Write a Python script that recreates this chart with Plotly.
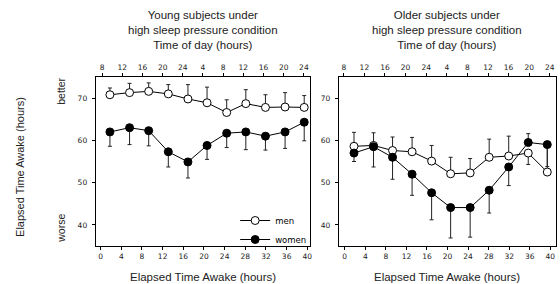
import plotly.graph_objects as go

# ---------------- data ----------------
elapsed_hours = [1.8, 5.6, 9.3, 13.1, 16.9, 20.6, 24.4, 28.1, 31.9, 35.7, 39.4]

young_men = [70.8, 71.3, 71.6, 71.0, 69.8, 68.9, 66.6, 68.7, 67.8, 67.9, 67.8]
young_men_err_up = [1.6, 2.2, 2.0, 2.2, 3.4, 3.7, 3.0, 3.3, 3.0, 3.4, 2.8]
young_men_err_down = [0, 0, 0, 0, 0, 0, 0, 0, 0, 0, 0]

young_women = [62.0, 63.0, 62.3, 57.3, 54.9, 58.8, 61.7, 62.0, 61.0, 62.0, 64.3]
young_women_err_up = [0, 0, 0, 0, 0, 0, 0, 0, 0, 0, 0]
young_women_err_down = [3.4, 4.0, 3.6, 3.6, 3.8, 3.3, 3.4, 4.2, 3.3, 3.9, 4.4]

older_men = [58.6, 58.8, 57.6, 57.3, 55.1, 52.1, 52.3, 56.0, 56.3, 57.0, 52.5]
older_men_err_up = [3.3, 3.0, 3.2, 3.4, 3.7, 3.9, 3.4, 4.3, 4.7, 0, 7.0]
older_men_err_down = [0, 0, 0, 0, 0, 0, 0, 0, 0, 2.7, 0]

older_women = [57.0, 58.5, 56.0, 52.0, 47.6, 44.1, 44.1, 48.2, 53.7, 59.5, 59.0]
older_women_err_up = [0, 0, 0, 0, 0, 0, 0, 0, 0, 2.1, 0]
older_women_err_down = [2.0, 4.8, 5.2, 5.0, 6.4, 7.2, 7.0, 5.4, 4.4, 0, 5.2]

bottom_ticks = [0, 4, 8, 12, 16, 20, 24, 28, 32, 36, 40]
clock_positions = [8, 12, 16, 20, 24, 28, 32, 36, 40, 44, 48]
clock_labels = ["8", "12", "16", "20", "24", "4", "8", "12", "16", "20", "24"]
y_ticks = [40, 50, 60, 70]

panel_titles = [
    "Young subjects under<br>high sleep pressure condition<br>Time of day (hours)",
    "Older subjects under<br>high sleep pressure condition<br>Time of day (hours)",
]
x_title = "Elapsed Time Awake (hours)"
y_title = "Elapsed Time Awake (hours)"

# ---------------- figure ----------------
W, H = 560, 284
TICKFONT = dict(family="DejaVu Sans", size=7.5, color="#222")
TXTFONT = "Liberation Sans, Arial, sans-serif"


def px_x(p):
    return p / W


def px_y(p):
    return (H - p) / H


fig = go.Figure()


def add_series(xa, ya, yvals, up, down, name, fill, show):
    fig.add_trace(go.Scatter(
        x=elapsed_hours, y=yvals, xaxis=xa, yaxis=ya, name=name,
        mode="lines+markers", showlegend=show,
        line=dict(color="black", width=1),
        marker=dict(symbol="circle", size=8, color=fill,
                    line=dict(color="black", width=1)),
        error_y=dict(type="data", symmetric=False, array=up, arrayminus=down,
                     color="#222", thickness=1, width=2),
    ))


add_series("x", "y", young_men, young_men_err_up, young_men_err_down, "men", "white", True)
add_series("x", "y", young_women, young_women_err_up, young_women_err_down, "women", "black", True)
add_series("x2", "y2", older_men, older_men_err_up, older_men_err_down, "men", "white", False)
add_series("x2", "y2", older_women, older_women_err_up, older_women_err_down, "women", "black", False)

# empty traces so that the top (time of day) axes are drawn
for xa, ya in (("x3", "y"), ("x4", "y2")):
    fig.add_trace(go.Scatter(x=clock_positions, y=[None] * len(clock_positions),
                             xaxis=xa, yaxis=ya, mode="markers", showlegend=False,
                             hoverinfo="skip"))

ydom = [px_y(246), px_y(77)]
dom1 = [px_x(96), px_x(311)]
dom2 = [px_x(340), px_x(558)]

common_x = dict(showline=True, linecolor="black", linewidth=1, mirror=True,
                ticks="outside", ticklen=3, tickwidth=1, tickcolor="black",
                tickvals=bottom_ticks, tickfont=TICKFONT, showgrid=False,
                zeroline=False)
common_y = dict(showline=True, linecolor="black", linewidth=1, mirror=True,
                ticks="outside", ticklen=3, tickwidth=1, tickcolor="black",
                tickvals=y_ticks, tickfont=TICKFONT, showgrid=False,
                zeroline=False, range=[35, 75], domain=ydom, ticklabelstandoff=3)
top_x = dict(side="top", showline=False, ticks="outside", ticklen=3,
             tickwidth=1, tickcolor="black", tickvals=clock_positions,
             ticktext=clock_labels, tickfont=TICKFONT, showgrid=False,
             zeroline=False)

fig.update_layout(
    width=W, height=H,
    margin=dict(l=0, r=0, t=0, b=0),
    paper_bgcolor="white", plot_bgcolor="white",
    xaxis=dict(domain=dom1, range=[-0.96, 40.5], anchor="y", **common_x),
    yaxis=dict(anchor="x", **common_y),
    xaxis2=dict(domain=dom2, range=[-1.16, 41.1], anchor="y2", **common_x),
    yaxis2=dict(anchor="x2", **common_y),
    xaxis3=dict(overlaying="x", anchor="y", range=[6.72, 49.19], **top_x),
    xaxis4=dict(overlaying="x2", anchor="y2", range=[7.03, 49.2], **top_x),
    showlegend=True,
    legend=dict(x=px_x(236), y=px_y(230), xanchor="left", yanchor="middle",
                bgcolor="rgba(0,0,0,0)", font=dict(family="DejaVu Sans", size=8.5, color="black"),
                itemwidth=30, tracegroupgap=0),
)

ann = []
for title, dom in zip(panel_titles, [dom1, dom2]):
    ann.append(dict(text=title, x=(dom[0] + dom[1]) / 2, y=px_y(30), xref="paper", yref="paper",
                    xanchor="center", yanchor="middle", showarrow=False,
                    font=dict(family=TXTFONT, size=11.5, color="#222")))
    ann.append(dict(text=x_title, x=(dom[0] + dom[1]) / 2, y=px_y(277), xref="paper", yref="paper",
                    xanchor="center", yanchor="middle", showarrow=False,
                    font=dict(family=TXTFONT, size=11.5, color="#222")))
ann.append(dict(text=y_title, x=px_x(20), y=px_y(167), xref="paper", yref="paper",
                xanchor="center", yanchor="middle", showarrow=False, textangle=-90,
                font=dict(family=TXTFONT, size=11, color="#222")))
ann.append(dict(text="better", x=px_x(61), y=px_y(91), xref="paper", yref="paper",
                xanchor="center", yanchor="middle", showarrow=False, textangle=-90,
                font=dict(family=TXTFONT, size=10.5, color="#222")))
ann.append(dict(text="worse", x=px_x(61), y=px_y(228), xref="paper", yref="paper",
                xanchor="center", yanchor="middle", showarrow=False, textangle=-90,
                font=dict(family=TXTFONT, size=10.5, color="#222")))
fig.update_layout(annotations=ann)

fig.write_html("out.html", config={"displayModeBar": False},
               post_script="document.body.style.margin='0';document.body.style.padding='0';")
